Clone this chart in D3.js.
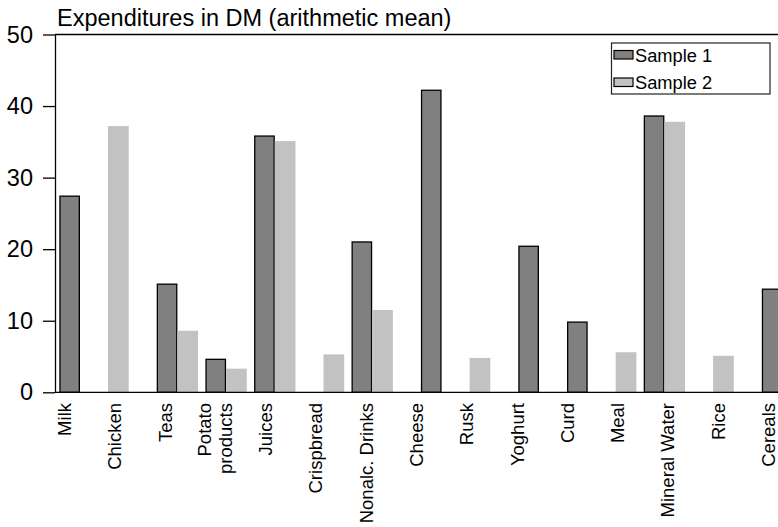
<!DOCTYPE html>
<html><head><meta charset="utf-8">
<script src="https://cdn.jsdelivr.net/npm/d3@7"></script>
<style>html,body{margin:0;padding:0;background:#fff}svg{display:block}</style>
</head><body>
<svg id="c" width="778" height="527"></svg>
<script>
// ---- data ----
const categories = ["Milk","Chicken","Teas","Potato products","Juices","Crispbread","Nonalc. Drinks","Cheese","Rusk","Yoghurt","Curd","Meal","Mineral Water","Rice","Cereals"];
const tickLabels = ["Milk","Chicken","Teas","Potato\nproducts","Juices","Crispbread","Nonalc. Drinks","Cheese","Rusk","Yoghurt","Curd","Meal","Mineral Water","Rice","Cereals"];
const sample1 = [27.5,null,15.2,4.7,35.9,null,21.1,42.3,null,20.5,9.9,null,38.7,null,14.5];
const sample2 = [null,37.2,8.6,3.3,35.1,5.3,11.5,null,4.8,null,null,5.6,37.8,5.1,null];
const seriesNames = ["Sample 1","Sample 2"];
const yTicks = [0,10,20,30,40,50];
const title = "Expenditures in DM (arithmetic mean)";
// groups where the single bar sits in the other half of its slot (as in the source picture)
const swappedGroups = ["Chicken","Cheese","Yoghurt","Curd","Cereals"];

// ---- layout ----
const W = 778, H = 527;
const FONT = "'Liberation Sans', Arial, Helvetica, sans-serif";
const colors = ["#808080","#c2c2c2"];
const svg = d3.select("#c").attr("viewBox",`0 0 ${W} ${H}`);
svg.append("rect").attr("width",W).attr("height",H).attr("fill","#fff");

const y = d3.scaleLinear().domain([0,50]).range([392.3,34.5]);
const x = d3.scaleBand().domain(categories).range([59.3,782.5]).paddingInner(0.15).paddingOuter(0).align(0);
const sub = d3.scaleBand().domain([0,1]).range([0,x.bandwidth()]);
const labelX = d3.scalePoint().domain(categories).range([64.5,768.5]);

// bars
const bars = [];
categories.forEach((c,i)=>{
  [sample1[i],sample2[i]].forEach((v,s)=>{
    if(v==null) return;
    const slot = swappedGroups.includes(c) ? 1-s : s;
    bars.push({c,v,s,slot});
  });
});
const g = svg.append("g");
g.selectAll("rect.bar").data(bars).join("rect")
  .attr("class","bar")
  .attr("x",d=> x(d.c)+sub(d.slot) + (d.s===0?0.65:0))
  .attr("width",d=> sub.bandwidth() - (d.s===0?1.3:0))
  .attr("y",d=> y(d.v) + (d.s===0?0.65:0))
  .attr("height",d=> y(0)-y(d.v) - (d.s===0?0.65:0))
  .attr("fill",d=>colors[d.s])
  .attr("stroke",d=> d.s===0?"#000":"none")
  .attr("stroke-width",1.3);

// axes
const yAxis = d3.axisLeft(y).tickValues(yTicks).tickSize(12).tickSizeOuter(0).tickPadding(10).tickFormat(d3.format("d"));
const ya = svg.append("g").attr("transform","translate(55,0)").call(yAxis);
ya.select(".domain").attr("stroke","#000").attr("stroke-width",1.3);
ya.selectAll(".tick line").attr("stroke","#000").attr("stroke-width",1.3);
ya.selectAll(".tick text").attr("font-family",FONT).attr("font-size",23.5).attr("fill","#000");

svg.append("line").attr("x1",55).attr("x2",W).attr("y1",y(50)).attr("y2",y(50)).attr("stroke","#000").attr("stroke-width",1.3);
svg.append("line").attr("x1",55).attr("x2",W).attr("y1",y(0)).attr("y2",y(0)).attr("stroke","#000").attr("stroke-width",1.3);

// x labels (rotated)
const lab = svg.append("g").selectAll("text").data(categories).join("text")
  .attr("transform",d=>`translate(${labelX(d)},403) rotate(-90)`)
  .attr("text-anchor","end")
  .attr("font-family",FONT).attr("font-size",18.5).attr("fill","#000");
lab.each(function(d,i){
  const lines = tickLabels[i].split("\n");
  const n = lines.length;
  d3.select(this).selectAll("tspan").data(lines).join("tspan")
    .attr("x",0)
    .attr("y",(l,k)=> (k-(n-1)/2)*21)
    .attr("dy","0.35em")
    .text(l=>l);
});

// title
svg.append("text").attr("x",57).attr("y",26).attr("font-family",FONT).attr("font-size",23.5).attr("fill","#000").text(title);

// legend
const lg = svg.append("g");
lg.append("rect").attr("x",611.5).attr("y",43).attr("width",158.5).attr("height",51)
  .attr("fill","#fff").attr("stroke","#222").attr("stroke-width",1.2);
seriesNames.forEach((name,s)=>{
  const yy = 50.5 + s*27.5;
  lg.append("rect").attr("x",614).attr("y",yy).attr("width",19).attr("height",8.5)
    .attr("fill",colors[s]).attr("stroke","#000").attr("stroke-width",1.2);
  lg.append("text").attr("x",635).attr("y",61.5+s*27.8).attr("font-family",FONT).attr("font-size",18.3).attr("fill","#000").text(name);
});
</script>
</body></html>
